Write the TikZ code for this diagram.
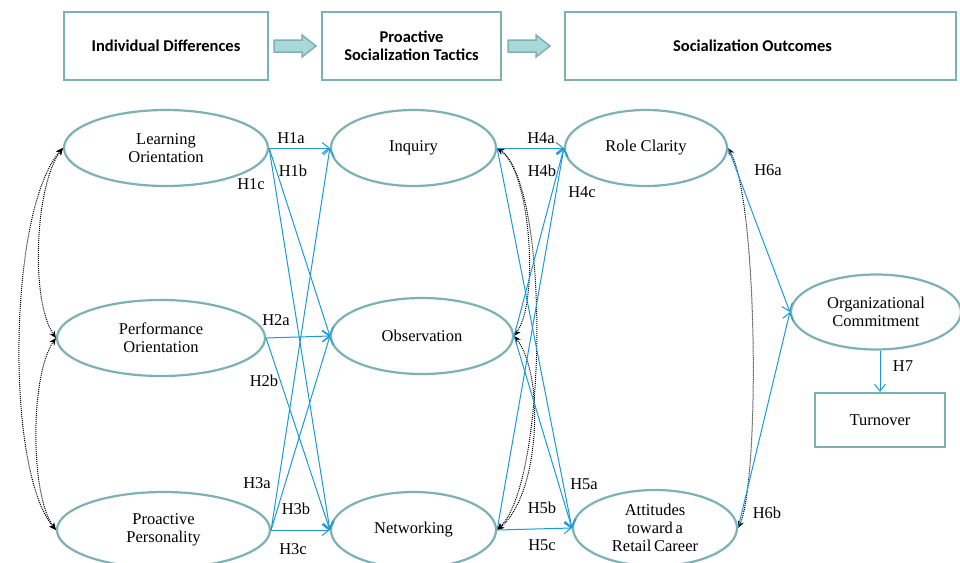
\documentclass[tikz,border=0pt]{standalone}
\usepackage{fontspec}
\setmainfont{Liberation Serif}
\newfontfamily\hdrfont{Carlito}
\usetikzlibrary{shapes.geometric,arrows.meta}
\definecolor{teal1}{RGB}{125,177,179}
\definecolor{arrfill}{RGB}{168,216,216}
\definecolor{hblue}{RGB}{27,154,214}
\tikzset{
 ell/.style={ellipse, draw=teal1, line width=2.2pt, fill=white, inner sep=0pt, align=center, font=\fontsize{16.5}{18}\selectfont},
 hbox/.style={rectangle, draw=teal1, line width=2.2pt, fill=white, inner sep=0pt, align=center, font=\hdrfont\bfseries\fontsize{16.5}{18}\selectfont},
 tbox/.style={rectangle, draw=teal1, line width=2.2pt, fill=white, inner sep=0pt, align=center, font=\fontsize{16.5}{18}\selectfont},
 hyp/.style={draw=hblue, line width=1pt, -{Straight Barb[length=7pt,width=11pt]}},
 corr/.style={draw=black, densely dotted, line width=1pt, {Stealth[length=7pt,width=6pt]}-{Stealth[length=7pt,width=6pt]}},
 lab/.style={font=\fontsize{16.5}{18}\selectfont, inner sep=0pt},
 blockarrow/.style={draw=teal1, fill=arrfill, line width=1.5pt, line join=miter},
}
\begin{document}
\begin{tikzpicture}[x=1pt,y=-1pt]
\useasboundingbox (0,0) rectangle (960,562);
\clip (0,0) rectangle (960,562);
% header boxes
\node[hbox, minimum width=204pt, minimum height=68pt] (b1) at (166,46) {Individual Differences};
\node[hbox, minimum width=179pt, minimum height=68pt] (b2) at (411.5,46) {Proactive\\Socialization Tactics};
\node[hbox, minimum width=391pt, minimum height=68pt] (b3) at (760.5,46) {\hspace*{-16pt}Socialization Outcomes};
\draw[blockarrow] (274,40) -- (302,40) -- (302,35) -- (316,46) -- (302,57) -- (302,52) -- (274,52) -- cycle;
\draw[blockarrow] (508,40) -- (536,40) -- (536,35) -- (550,46) -- (536,57) -- (536,52) -- (508,52) -- cycle;
% ellipses
\node[ell, minimum width=204pt, minimum height=76pt] (L) at (166,148) {Learning\\Orientation};
\node[ell, minimum width=208pt, minimum height=76pt] (Pf) at (161,338) {Performance\\Orientation};
\node[ell, minimum width=213pt, minimum height=76pt] (Pp) at (163.5,530) {Proactive\\Personality};
\node[ell, minimum width=165pt, minimum height=76pt] (I) at (413.5,148) {Inquiry};
\node[ell, minimum width=182pt, minimum height=76pt] (O) at (422,336) {Observation};
\node[ell, minimum width=165pt, minimum height=76pt] (N) at (413.5,530) {Networking};
\node[ell, minimum width=162pt, minimum height=76pt] (R) at (646,148) {Role Clarity};
\node[ell, minimum width=164pt, minimum height=76pt] (A) at (655,528) {Attitudes\\toward\,a\\Retail\,Career};
\node[ell, minimum width=170pt, minimum height=75pt] (C) at (876,312) {Organizational\\Commitment};
\node[tbox, minimum width=130pt, minimum height=54pt] (T) at (880,420) {Turnover};
% correlations
\draw[corr] (L.west) .. controls (35,185) and (30,300) .. (Pf.west);
\draw[corr] (L.west) .. controls (8,210) and (5,470) .. (Pp.west);
\draw[corr] (Pf.west) .. controls (30,375) and (30,495) .. (Pp.west);
\draw[corr] (I.east) .. controls (530,170) and (540,300) .. (O.east);
\draw[corr] (I.east) .. controls (550,185) and (548,480) .. (N.east);
\draw[corr] (O.east) .. controls (545,375) and (540,495) .. (N.east);
\draw[corr] (R.east) .. controls (758,200) and (760,480) .. (A.east);
% hypotheses
\draw[hyp] (L.east) -- (I.west);
\draw[hyp] (L.east) -- (O.west);
\draw[hyp] (L.east) -- (N.west);
\draw[hyp] (Pf.east) -- (O.west);
\draw[hyp] (Pf.east) -- (N.west);
\draw[hyp] (Pp.east) -- (I.west);
\draw[hyp] (Pp.east) -- (O.west);
\draw[hyp] (Pp.east) -- (N.west);
\draw[hyp] (I.east) -- (R.west);
\draw[hyp] (O.east) -- (R.west);
\draw[hyp] (N.east) -- (R.west);
\draw[hyp] (I.east) -- (A.west);
\draw[hyp] (O.east) -- (A.west);
\draw[hyp] (N.east) -- (A.west);
\draw[hyp] (R.east) -- (C.west);
\draw[hyp] (A.east) -- (C.west);
\draw[hyp] (T.north |- C.south) -- (T.north);
% labels
\node[lab] (l1a) at (291,138) {H1a};
\node[lab] (l1b) at (293,171) {H1b};
\node[lab] (l1c) at (251,184) {H1c};
\node[lab] (l2a) at (276,320) {H2a};
\node[lab] (l2b) at (264,381) {H2b};
\node[lab] (l3a) at (257,483) {H3a};
\node[lab] (l3b) at (296,509) {H3b};
\node[lab] (l3c) at (293,549) {H3c};
\node[lab] (l4a) at (541,138) {H4a};
\node[lab] (l4b) at (542,171) {H4b};
\node[lab] (l4c) at (582,192) {H4c};
\node[lab] (l5a) at (584,484) {H5a};
\node[lab] (l5b) at (542,508) {H5b};
\node[lab] (l5c) at (542,545) {H5c};
\node[lab] (l6a) at (768,170) {H6a};
\node[lab] (l6b) at (767,513) {H6b};
\node[lab] (l7) at (903,366) {H7};
\end{tikzpicture}
\end{document}
